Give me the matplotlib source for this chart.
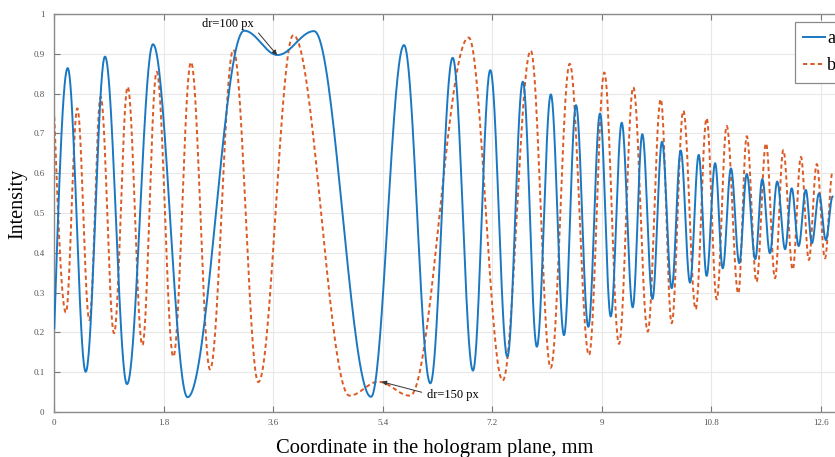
import numpy as np
import matplotlib
matplotlib.use('Agg')
import matplotlib.pyplot as plt

plt.rcParams['font.family'] = ['Liberation Serif', 'DejaVu Serif']

# ---- data: extrema (x in mm, intensity) ----
a_x = [0.0, 0.22, 0.516, 0.833, 1.195, 1.622, 2.19, 3.12, 3.67, 4.27, 5.205,
       5.747, 6.18, 6.547, 6.88, 7.165, 7.445, 7.70, 7.93, 8.16, 8.376, 8.574,
       8.776, 8.968, 9.144, 9.325, 9.505, 9.663, 9.83, 9.987, 10.146, 10.294,
       10.447, 10.59, 10.72, 10.86, 10.985, 11.12, 11.257, 11.38, 11.52, 11.635,
       11.76, 11.88, 12.01, 12.118, 12.233, 12.35, 12.45, 12.567, 12.68, 12.79]
a_y = [0.21, 0.864, 0.101, 0.893, 0.070, 0.924, 0.037, 0.958, 0.897, 0.957, 0.038,
       0.922, 0.072, 0.890, 0.104, 0.859, 0.139, 0.830, 0.164, 0.798, 0.193, 0.771,
       0.214, 0.750, 0.240, 0.727, 0.263, 0.698, 0.284, 0.679, 0.311, 0.657,
       0.325, 0.646, 0.342, 0.625, 0.361, 0.612, 0.374, 0.598, 0.384, 0.585,
       0.399, 0.579, 0.409, 0.562, 0.417, 0.558, 0.424, 0.549, 0.432, 0.541]

b_x = [0.0, 0.19, 0.378, 0.576, 0.762, 0.981, 1.206, 1.447, 1.683, 1.956, 2.246,
       2.559, 2.942, 3.353, 3.928, 4.85, 5.325, 5.846, 6.81, 7.37, 7.83, 8.158,
       8.47, 8.787, 9.039, 9.28, 9.515, 9.752, 9.966, 10.146, 10.337, 10.54,
       10.72, 10.886, 11.05, 11.24, 11.38, 11.54, 11.696, 11.844, 11.98, 12.135,
       12.27, 12.40, 12.53, 12.665, 12.79]
b_y = [0.742, 0.250, 0.763, 0.231, 0.792, 0.198, 0.817, 0.168, 0.855, 0.139, 0.879,
       0.107, 0.910, 0.075, 0.947, 0.041, 0.076, 0.041, 0.941, 0.079, 0.908, 0.111,
       0.875, 0.143, 0.853, 0.171, 0.816, 0.202, 0.786, 0.223, 0.757, 0.258,
       0.738, 0.283, 0.719, 0.298, 0.693, 0.327, 0.675, 0.336, 0.658, 0.358,
       0.641, 0.382, 0.623, 0.386, 0.604]

series_labels = ['a', 'b']
x_ticks = [0, 1.8, 3.6, 5.4, 7.2, 9, 10.8, 12.6]
x_tick_labels = ['0', '1.8', '3.6', '5.4', '7.2', '9', '10.8', '12.6']
y_ticks = [0, 0.1, 0.2, 0.3, 0.4, 0.5, 0.6, 0.7, 0.8, 0.9, 1.0]
y_tick_labels = ['0', '0.1', '0.2', '0.3', '0.4', '0.5', '0.6', '0.7', '0.8', '0.9', '1']
ann_a = ('dr=100 px', 3.66, 0.897)
ann_b = ('dr=150 px', 5.38, 0.076)


def wave_through(xs, ys, n=40):
    """Smooth half-cosine shape between successive extrema."""
    X, Y = [], []
    for i in range(len(xs) - 1):
        t = np.linspace(0, 1, n, endpoint=False)
        w = np.sin(np.pi / 2 * t) if i == 0 else (1 - np.cos(np.pi * t)) / 2
        X.append(xs[i] + (xs[i + 1] - xs[i]) * t)
        Y.append(ys[i] + (ys[i + 1] - ys[i]) * w)
    X.append([xs[-1]])
    Y.append([ys[-1]])
    return np.concatenate(X), np.concatenate(Y)


W, H = 835, 457
fig = plt.figure(figsize=(W / 100, H / 100), dpi=100)
x0, x1, ytop, ybot = 54.3, 835.0, 14.0, 412.0
ax = fig.add_axes([x0 / W, 1 - ybot / H, (x1 - x0) / W, (ybot - ytop) / H])

xa, ya = wave_through(a_x, a_y)
xb, yb = wave_through(b_x, b_y)
ax.plot(xa, ya, color='#1a78c2', lw=1.4, label=series_labels[0], zorder=3)
ax.plot(xb, yb, color='#dc5a24', lw=1.4, ls=(0, (2.2, 1.6)),
        label=series_labels[1], zorder=2)

ax.set_xlim(0, (x1 - x0) / 60.85)
ax.set_ylim(0, 1)
ax.set_xticks(x_ticks)
ax.set_xticklabels(x_tick_labels)
ax.set_yticks(y_ticks)
ax.set_yticklabels(y_tick_labels)
ax.grid(True, color='#e8e8e8', lw=0.8)
ax.set_axisbelow(True)
ax.tick_params(direction='in', length=4, width=0.8, color='#777777',
               labelsize=6.5, labelcolor='#555555', top=True, right=False)
ax.tick_params(axis='x', pad=5)
ax.tick_params(axis='y', pad=7)
for s in ['left', 'bottom', 'top']:
    ax.spines[s].set_color('#8a8a8a')
    ax.spines[s].set_linewidth(1.0)
ax.spines['right'].set_visible(False)

fig.text(18.3 / W, 1 - 203.5 / H, 'Intensity', rotation=90, ha='center',
         va='center', fontsize=14.5)
fig.text(435 / W, 1 - 452.5 / H, 'Coordinate in the hologram plane, mm',
         ha='center', va='baseline', fontsize=14.8)

arr = dict(arrowstyle='-|>', color='#333333', lw=0.7, mutation_scale=7,
           shrinkB=0)
ax.annotate(ann_a[0], xy=(ann_a[1], ann_a[2]), xytext=(2.855, 0.975),
            ha='center', va='center', fontsize=9,
            arrowprops=dict(arr, relpos=(1.0, 0.2), shrinkA=2))
ax.annotate(ann_b[0], xy=(ann_b[1], ann_b[2]), xytext=(6.553, 0.043),
            ha='center', va='center', fontsize=9,
            arrowprops=dict(arr, relpos=(0.0, 0.6), shrinkA=2))

leg = fig.legend(loc='upper left', bbox_to_anchor=(795 / W, 1 - 21.7 / H),
                 fontsize=13, handlelength=1.2, handletextpad=0.1,
                 labelspacing=0.57, borderpad=0.47, borderaxespad=0,
                 fancybox=False, framealpha=1, edgecolor='#8a8a8a')
leg.get_frame().set_linewidth(0.9)

fig.savefig('out.png', dpi=100)
